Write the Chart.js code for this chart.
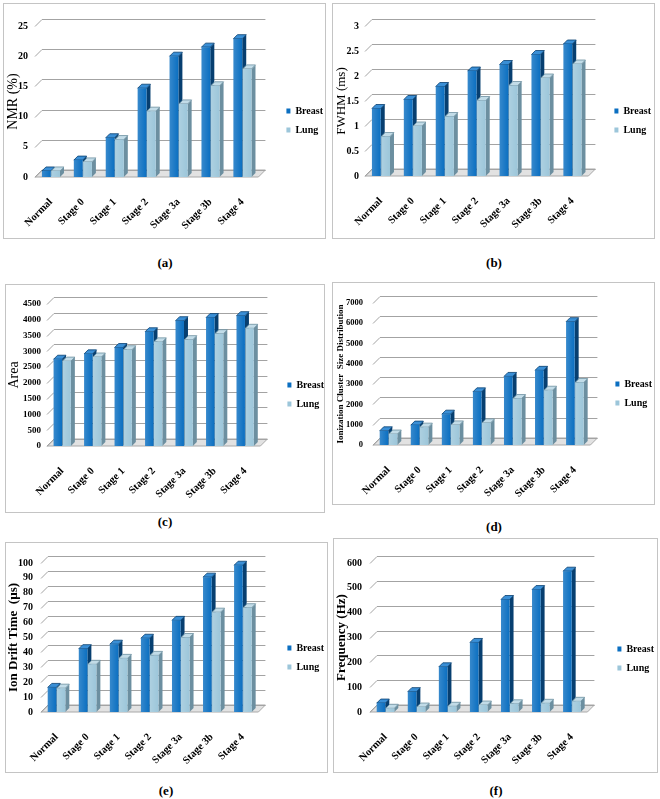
<!DOCTYPE html>
<html><head><meta charset="utf-8">
<script src="https://cdn.jsdelivr.net/npm/chart.js@4.4.1/dist/chart.umd.min.js"></script>
<style>
html,body{margin:0;padding:0;background:#fff}
body{width:660px;height:799px;position:relative;overflow:hidden;font-family:"Liberation Serif",serif}
.panel{position:absolute;border:1px solid #c4c4c4;box-sizing:border-box;overflow:hidden;background:#fff}
.panel canvas{position:absolute;left:0;top:0}
.cap{position:absolute;font:bold 13px "Liberation Serif",serif;transform:translate(-50%,-50%);white-space:nowrap}
</style></head><body>
<script>
// ---------- data ----------
const categories = ['Normal','Stage 0','Stage 1','Stage 2','Stage 3a','Stage 3b','Stage 4'];
const seriesNames = ['Breast','Lung'];

const nmrBreast = [1.0, 2.8, 6.5, 14.7, 20.0, 21.5, 22.9];
const nmrLung   = [1.0, 2.5, 6.2, 10.9, 12.1, 15.1, 17.9];

const fwhmBreast = [1.35, 1.53, 1.79, 2.10, 2.23, 2.43, 2.64];
const fwhmLung   = [0.79, 1.00, 1.19, 1.51, 1.81, 1.96, 2.24];

const areaBreast = [2750, 2920, 3120, 3620, 3970, 4070, 4130];
const areaLung   = [2690, 2820, 3050, 3300, 3370, 3560, 3730];

const clusterBreast = [700, 980, 1520, 2620, 3380, 3680, 6080];
const clusterLung   = [540, 880, 990, 1090, 2290, 2700, 3080];

const driftBreast = [16.5, 42.5, 45.5, 49.5, 61.5, 90.5, 98.5];
const driftLung   = [16, 32, 36, 38, 50, 67, 70];

const freqBreast = [36, 82, 182, 280, 453, 493, 567];
const freqLung   = [15, 20, 23, 28, 33, 35, 43];

const axisMax   = [25, 3, 4500, 7000, 100, 600];
const axisStep  = [5, 0.5, 500, 1000, 10, 100];
const axisTitles = ['NMR (%)', 'FWHM (ms)', 'Area', 'Ionization Cluster  Size Distribution', 'Ion Drift Time  (\u00b5s)', 'Frequency (Hz)'];
const captions = ['(a)','(b)','(c)','(d)','(e)','(f)'];

// ---------- styling ----------
const frontColors = ['#0b6fc1', '#9cc6da'];
const sideColors  = ['#073f70', '#6c8fa0'];
const topColors   = ['#3a8fd6', '#c2dce8'];
const FONT = '"Liberation Serif", serif';
Chart.defaults.font.family = FONT;
Chart.defaults.color = '#000';

// layout per panel (image coordinates)
const layouts = [
 {box:[3,3,323,236],   L:35,  R:258, T:26,  B:177, tickRight:28,  titleX:13,  titleSize:14, titleBold:false, tickSize:10,  legendX:286, legendY:111, cap:[165,263]},
 {box:[332,3,323,236], L:365, R:588, T:26,  B:176, tickRight:359, titleX:342, titleSize:13, titleBold:false, tickSize:10,  legendX:614, legendY:111, cap:[494,263]},
 {box:[5,284,320,229], L:47,  R:260, T:304, B:446, tickRight:41,  titleX:13,  titleSize:14, titleBold:false, tickSize:9,   legendX:287, legendY:385, cap:[165,522]},
 {box:[332,282,323,223],L:373,R:590, T:303, B:445, tickRight:363, titleX:341, titleSize:9,  titleBold:true,  tickSize:8.5, legendX:615, legendY:384, cap:[494,527]},
 {box:[5,542,323,231], L:41,  R:258, T:563, B:712, tickRight:33,  titleX:13,  titleSize:13, titleBold:true,  tickSize:10,  legendX:287, legendY:648, cap:[166,791]},
 {box:[333,538,325,235],L:370,R:587, T:563, B:712, tickRight:362, titleX:342, titleSize:13, titleBold:true,  tickSize:10,  legendX:617, legendY:649, cap:[496,791]}
];
const seriesData = [
 [nmrBreast, nmrLung], [fwhmBreast, fwhmLung], [areaBreast, areaLung],
 [clusterBreast, clusterLung], [driftBreast, driftLung], [freqBreast, freqLung]
];

function barBox(bar) {
  const p = bar.getProps(['x','y','base','width'], true);
  return {l: p.x - p.width / 2, r: p.x + p.width / 2, top: p.y, base: p.base};
}

// 3D look: back-wall gridlines, floor and bar side/top faces
const threeD = {
  id: 'threeD',
  beforeDatasetsDraw(chart, args, o) {
    const {ctx, chartArea: a} = chart;
    const y = chart.scales.y;
    const dx = o.dx, dy = o.dy, d = o.depth;
    ctx.save();
    // floor
    ctx.beginPath();
    ctx.moveTo(a.left, a.bottom); ctx.lineTo(a.right, a.bottom);
    ctx.lineTo(a.right + dx, a.bottom - dy); ctx.lineTo(a.left + dx, a.bottom - dy);
    ctx.closePath();
    ctx.fillStyle = '#e2e2e2'; ctx.fill();
    ctx.strokeStyle = '#a8a8a8'; ctx.lineWidth = 1; ctx.stroke();
    // back wall gridlines (with left-wall slant)
    ctx.strokeStyle = '#a3a3a3';
    y.ticks.forEach(t => {
      const py = Math.round(y.getPixelForValue(t.value)) + 0.5;
      ctx.beginPath();
      ctx.moveTo(a.left, py);
      ctx.lineTo(a.left + dx, py - dy);
      ctx.lineTo(a.right + dx, py - dy);
      ctx.stroke();
    });
    // bar side and top faces
    chart.data.datasets.forEach((ds, i) => {
      chart.getDatasetMeta(i).data.forEach(bar => {
        const {l, r, top, base} = barBox(bar);
        ctx.fillStyle = o.side[i];
        ctx.beginPath();
        ctx.moveTo(r, top); ctx.lineTo(r + d, top - d); ctx.lineTo(r + d, base - d); ctx.lineTo(r, base);
        ctx.closePath(); ctx.fill();
        ctx.fillStyle = o.top[i];
        ctx.beginPath();
        ctx.moveTo(l, top); ctx.lineTo(l + d, top - d); ctx.lineTo(r + d, top - d); ctx.lineTo(r, top);
        ctx.closePath(); ctx.fill();
        ctx.strokeStyle = o.side[i]; ctx.lineWidth = 0.8; ctx.stroke();
      });
    });
    ctx.restore();
  },
  afterDatasetsDraw(chart) {
    // soft highlight on the left of each front face
    const ctx = chart.ctx;
    ctx.save();
    chart.data.datasets.forEach((ds, i) => {
      chart.getDatasetMeta(i).data.forEach(bar => {
        const {l, r, top, base} = barBox(bar);
        if (![l, r, top, base].every(Number.isFinite)) return;
        const g = ctx.createLinearGradient(l, 0, r, 0);
        g.addColorStop(0, 'rgba(255,255,255,0.18)');
        g.addColorStop(1, 'rgba(255,255,255,0)');
        ctx.fillStyle = g;
        ctx.fillRect(l, top, r - l, base - top);
      });
    });
    ctx.restore();
  }
};

const measureCtx = document.createElement('canvas').getContext('2d');

function makePanel(k) {
  const p = layouts[k];
  const div = document.createElement('div');
  div.className = 'panel';
  Object.assign(div.style, {left: p.box[0] + 'px', top: p.box[1] + 'px', width: p.box[2] + 'px', height: p.box[3] + 'px'});
  document.body.appendChild(div);
  const cap = document.createElement('div');
  cap.className = 'cap'; cap.textContent = captions[k];
  cap.style.left = p.cap[0] + 'px'; cap.style.top = p.cap[1] + 'px';
  document.body.appendChild(cap);

  const ox = p.box[0] + 1, oy = p.box[1] + 1;
  const innerW = p.box[2] - 2, H = p.box[3] - 2;
  const L = p.L - ox, R = p.R - ox, T = p.T - oy, B = p.B - oy;
  const lf = 10, lp = 9, boxW = 4;
  measureCtx.font = `bold ${lf}px ${FONT}`;
  const tw = Math.max(...seriesNames.map(s => measureCtx.measureText(s).width));
  const itemW = boxW + lf / 2 + tw;
  const legendW = lp + itemW + 10;
  const M = p.legendX - ox;
  const gap = Math.max(0, M - R - lp);
  let W = Math.ceil(R + gap + legendW), padR = 0;
  if (W < innerW) { padR = innerW - W; W = innerW; }
  // legend spans chart area vertically; an empty legend title pushes the items down
  const colH = 2 * (lf + lp);
  const C = p.legendY - oy;
  const th = 2 * (C - lf / 2) - T - lp - B + colH;
  const ltSize = 1;
  const ltPad = Math.max(0, th - ltSize * 1.2);
  const xH = H - B;
  const tlh = p.titleSize * 1.2;
  const tpad = Math.max(0, (p.titleX - ox) - tlh / 2);

  const cv = document.createElement('canvas');
  cv.width = W; cv.height = H;
  cv.style.width = W + 'px'; cv.style.height = H + 'px';
  div.appendChild(cv);

  const [bData, lData] = seriesData[k];
  new Chart(cv, {
    type: 'bar',
    data: {
      labels: categories,
      datasets: [
        {label: seriesNames[0], data: bData, backgroundColor: frontColors[0], borderWidth: 0, barPercentage: 0.95, categoryPercentage: 0.58},
        {label: seriesNames[1], data: lData, backgroundColor: frontColors[1], borderWidth: 0, barPercentage: 0.95, categoryPercentage: 0.58}
      ]
    },
    options: {
      responsive: false, maintainAspectRatio: false, animation: false, devicePixelRatio: 1,
      layout: {padding: {left: 0, top: T, right: padR, bottom: 0}},
      plugins: {
        tooltip: {enabled: false},
        legend: {
          position: 'right', align: 'center', maxWidth: 300, fullSize: false,
          title: {display: true, text: ' ', padding: {top: ltPad, bottom: 0}, font: {size: ltSize}},
          labels: {boxWidth: boxW, boxHeight: 5, padding: lp, color: '#000', font: {size: lf, weight: 'bold', family: FONT}}
        },
        threeD: {dx: 7, dy: 7, depth: 4, side: sideColors, top: topColors}
      },
      scales: {
        x: {
          grid: {display: false, drawTicks: false}, border: {display: false},
          ticks: {autoSkip: false, minRotation: 45, maxRotation: 45, padding: 19, color: '#000', font: {size: 10.5, weight: 'bold', family: FONT}},
          afterFit(s) { s.height = xH; }
        },
        y: {
          min: 0, max: axisMax[k],
          grid: {display: false, drawTicks: false}, border: {display: false},
          ticks: {stepSize: axisStep[k], autoSkip: false, padding: L - (p.tickRight - ox), color: '#000',
                  font: {size: p.tickSize, weight: 'bold', family: FONT},
                  callback: v => String(Math.round(v * 1000) / 1000)},
          title: {display: true, text: axisTitles[k], color: '#000', padding: {top: tpad, bottom: 0}, font: {size: p.titleSize, weight: p.titleBold ? 'bold' : 'normal', family: FONT}},
          afterFit(s) { s.width = L; }
        },
        yR: {
          position: 'right', display: true,
          grid: {display: false, drawTicks: false}, border: {display: false},
          ticks: {display: false},
          afterFit(s) { s.width = gap; }
        }
      }
    },
    plugins: [threeD]
  });
}
for (let k = 0; k < 6; k++) makePanel(k);
</script>
</body></html>
